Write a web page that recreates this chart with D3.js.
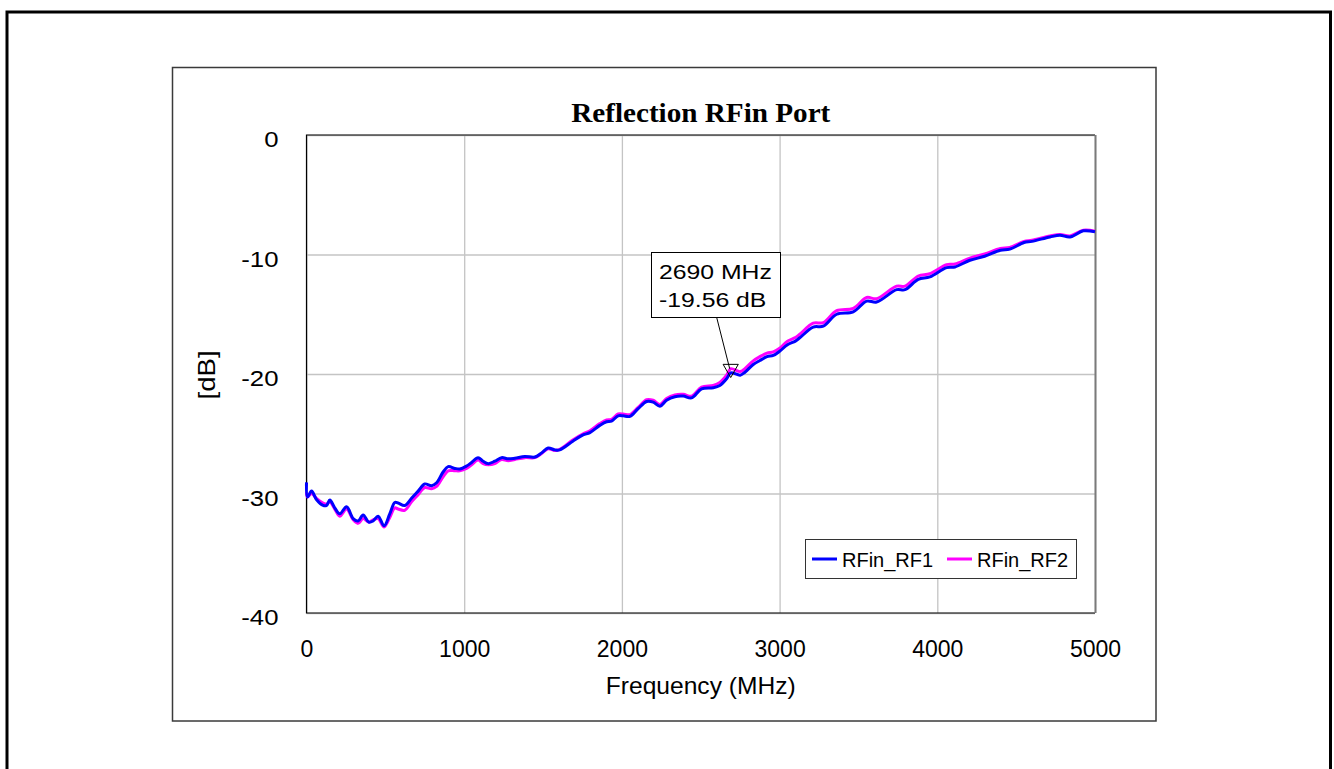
<!DOCTYPE html>
<html>
<head>
<meta charset="utf-8">
<script src="https://cdn.jsdelivr.net/npm/d3@7"></script>
<style>
  body { margin: 0; background: #fff; }
  svg { display: block; }
  text { font-family: "Liberation Sans", Arial, sans-serif; fill: #000; }
</style>
</head>
<body>
<svg id="chart" width="1334" height="769"></svg>
<script>
// Sweep frequencies (MHz) shared by both traces
const frequencyMHz = [
  0, 6, 32, 63, 105, 127, 148, 179, 211, 254, 296, 327, 359, 395, 422, 454, 492, 528, 560, 581,
  623, 666, 708, 750, 793, 825, 866, 898, 941, 972, 1015, 1047, 1088, 1120, 1152, 1194, 1237, 1279, 1321, 1385,
  1448, 1491, 1532, 1575, 1606, 1691, 1754, 1797, 1860, 1903, 1934, 1976, 2008, 2051, 2103, 2157, 2198, 2241, 2283, 2336,
  2389, 2442, 2505, 2579, 2621, 2664, 2690, 2750, 2780, 2833, 2875, 2920, 2960, 3000, 3050, 3100, 3128, 3213, 3277, 3362,
  3467, 3552, 3615, 3742, 3795, 3879, 3953, 4059, 4112, 4207, 4300, 4400, 4460, 4550, 4600, 4715, 4778, 4842, 4926, 5000
];

// Return loss of RF1 (dB)
const rfinRF1 = [
  -29.07, -30.3, -29.8, -30.5, -31.0, -31.0, -30.55, -31.2, -31.7, -31.1, -32.1, -32.3, -31.8, -32.4, -32.3, -31.9, -32.7, -31.7, -30.75, -30.8,
  -31.0, -30.4, -29.8, -29.2, -29.35, -29.1, -28.2, -27.75, -27.9, -27.95, -27.7, -27.4, -27.0, -27.3, -27.5, -27.3, -27.0, -27.1, -27.05, -26.9,
  -26.95, -26.6, -26.2, -26.35, -26.35, -25.6, -25.1, -24.9, -24.3, -24.0, -23.95, -23.5, -23.5, -23.55, -22.9, -22.3, -22.35, -22.7, -22.2, -21.9,
  -21.85, -22.0, -21.25, -21.15, -20.96, -20.4, -19.9, -20.1, -19.85, -19.2, -18.87, -18.55, -18.45, -18.1, -17.55, -17.25, -16.97, -16.07, -16.0, -15.0,
  -14.8, -13.9, -13.98, -12.94, -12.94, -12.08, -11.88, -11.1, -11.04, -10.48, -10.15, -9.65, -9.55, -9.0, -8.9, -8.53, -8.39, -8.53, -8.02, -8.1
];

// Return loss of RF2 (dB)
const rfinRF2 = [
  -29.9, -30.3, -30.0, -30.4, -30.8, -30.9, -30.7, -31.3, -31.9, -31.3, -32.2, -32.5, -32.1, -32.4, -32.2, -32.1, -32.8, -32.0, -31.2, -31.3,
  -31.4, -30.7, -30.1, -29.5, -29.6, -29.4, -28.6, -28.1, -28.1, -28.1, -27.9, -27.6, -27.2, -27.5, -27.6, -27.5, -27.15, -27.25, -27.15, -27.0,
  -27.0, -26.65, -26.25, -26.4, -26.3, -25.5, -25.0, -24.75, -24.15, -23.85, -23.8, -23.35, -23.35, -23.4, -22.8, -22.15, -22.2, -22.55, -22.05, -21.75,
  -21.7, -21.85, -21.1, -20.95, -20.7, -20.1, -19.56, -19.8, -19.55, -18.9, -18.55, -18.25, -18.15, -17.85, -17.25, -16.95, -16.67, -15.75, -15.7, -14.7,
  -14.5, -13.6, -13.7, -12.65, -12.65, -11.8, -11.6, -10.85, -10.8, -10.3, -9.95, -9.5, -9.4, -8.9, -8.8, -8.45, -8.33, -8.45, -7.97, -8.05
];

const xTickValues = [0, 1000, 2000, 3000, 4000, 5000];
const yTickValues = [0, -10, -20, -30, -40];
const seriesNames = ["RFin_RF1", "RFin_RF2"];
const seriesColors = ["#0000ff", "#ff00ff"];
const markerFreq = 2690;
const markerValue = rfinRF2[frequencyMHz.indexOf(markerFreq)];

const svg = d3.select("#chart");
svg.append("rect").attr("width", 1334).attr("height", 769).attr("fill", "#fff");

// Page border and chart frame
svg.append("path")
  .attr("d", "M7,800 V12 H1330.5 V800")
  .attr("fill", "none").attr("stroke", "#000").attr("stroke-width", 3);
svg.append("rect")
  .attr("x", 172.5).attr("y", 67.5).attr("width", 983.5).attr("height", 653.5)
  .attr("fill", "#fff").attr("stroke", "#3a3a3a").attr("stroke-width", 1.5);

const plot = { left: 306.5, right: 1095, top: 135, bottom: 613 };
const x = d3.scaleLinear().domain([0, 5000]).range([plot.left, plot.right]);
const y = d3.scaleLinear().domain([-40, 0]).range([plot.bottom, plot.top]);
const plotW = plot.right - plot.left, plotH = plot.bottom - plot.top;

// Gridlines
const gx = svg.append("g").attr("transform", `translate(0,${plot.bottom})`)
  .call(d3.axisBottom(x).tickValues(xTickValues).tickSize(-plotH).tickFormat(""));
const gy = svg.append("g").attr("transform", `translate(${plot.left},0)`)
  .call(d3.axisLeft(y).tickValues(yTickValues).tickSize(-plotW).tickFormat(""));
[gx, gy].forEach(g => {
  g.select(".domain").remove();
  g.selectAll(".tick line").attr("stroke", "#c4c4c4").attr("stroke-width", 1.3);
});

// Plot area border
svg.append("path")
  .attr("d", `M${plot.right},${plot.top} H${plot.left} V${plot.bottom} H${plot.right}`)
  .attr("fill", "none").attr("stroke", "#000").attr("stroke-width", 1.2);
svg.append("line")
  .attr("x1", plot.right + 0.5).attr("x2", plot.right + 0.5)
  .attr("y1", plot.top).attr("y2", plot.bottom)
  .attr("stroke", "#7a7a7a").attr("stroke-width", 2);

// Tick labels (plain hyphen for negatives)
const plainNumber = d => String(d);
const ax = svg.append("g").attr("transform", `translate(0,${plot.bottom})`)
  .call(d3.axisBottom(x).tickValues(xTickValues).tickSize(0).tickPadding(28).tickFormat(plainNumber));
const ay = svg.append("g").attr("transform", `translate(${plot.left},0)`)
  .call(d3.axisLeft(y).tickValues(yTickValues).tickSize(0).tickPadding(28).tickFormat(plainNumber));
[ax, ay].forEach(g => {
  g.select(".domain").remove();
  g.selectAll("text").attr("font-size", 23).attr("font-family", "'Liberation Sans', Arial, sans-serif").attr("fill", "#000");
});
const yLabelStretch = 1.12;
ay.selectAll("text")
  .attr("dy", "0.5em")
  .attr("x", -28 / yLabelStretch)
  .attr("transform", `scale(${yLabelStretch},1)`);

// Text placed with a slight horizontal widening along its reading direction
function label(tx, ty, str, opts) {
  const o = Object.assign({ size: 23, sx: 1, rotate: 0, anchor: "start" }, opts);
  const t = svg.append("text")
    .attr("transform", `translate(${tx},${ty}) rotate(${o.rotate}) scale(${o.sx},1)`)
    .attr("text-anchor", o.anchor)
    .attr("font-size", o.size)
    .text(str);
  if (o.family) t.style("font-family", o.family);
  if (o.weight) t.attr("font-weight", o.weight);
  return t;
}

// Titles
const midX = (plot.left + plot.right) / 2;
label(midX, 122, "Reflection RFin Port", {
  size: 27, sx: 1.08, anchor: "middle", weight: "bold",
  family: "'Liberation Serif', 'Times New Roman', serif"
});
label(midX, 694, "Frequency (MHz)", { size: 23, sx: 1.07, anchor: "middle" });
label(215, (plot.top + plot.bottom) / 2 + 1, "[dB]", { size: 23, sx: 1.2, rotate: -90, anchor: "middle" });

// Traces: RF2 first so RF1 sits on top
const line = d3.line()
  .x(d => x(d[0])).y(d => y(d[1]))
  .curve(d3.curveCatmullRom.alpha(0.5));
const traces = [rfinRF1, rfinRF2];
[1, 0].forEach(i => {
  svg.append("path")
    .datum(frequencyMHz.map((f, k) => [f, traces[i][k]]))
    .attr("d", line)
    .attr("fill", "none")
    .attr("stroke", seriesColors[i])
    .attr("stroke-width", 3)
    .attr("stroke-linejoin", "round");
});

// Marker with callout
const mx = x(markerFreq), my = y(markerValue);
svg.append("line")
  .attr("x1", 716.7).attr("y1", 317.5).attr("x2", mx - 1).attr("y2", my)
  .attr("stroke", "#000").attr("stroke-width", 1);
svg.append("path")
  .attr("d", d3.symbol(d3.symbolTriangle, 100)())
  .attr("transform", `translate(${mx},${my}) rotate(180)`)
  .attr("fill", "none").attr("stroke", "#000").attr("stroke-width", 1);
svg.append("rect")
  .attr("x", 651.5).attr("y", 252.5).attr("width", 129).attr("height", 65)
  .attr("fill", "#fff").attr("stroke", "#000").attr("stroke-width", 1);
label(659, 279, `${markerFreq} MHz`, { size: 21, sx: 1.18 });
label(659, 307, `${markerValue.toFixed(2)} dB`, { size: 21, sx: 1.18 });

// Legend
const legend = svg.append("g");
legend.append("rect")
  .attr("x", 805.5).attr("y", 539.5).attr("width", 271).attr("height", 39)
  .attr("fill", "#fff").attr("stroke", "#333").attr("stroke-width", 1);
const legendX = [812, 947];
seriesNames.forEach((name, i) => {
  legend.append("line")
    .attr("x1", legendX[i]).attr("x2", legendX[i] + 25)
    .attr("y1", 559).attr("y2", 559)
    .attr("stroke", seriesColors[i]).attr("stroke-width", 3);
  legend.append("text")
    .attr("x", legendX[i] + 30).attr("y", 566.5)
    .attr("font-size", 20)
    .text(name);
});
</script>
</body>
</html>
